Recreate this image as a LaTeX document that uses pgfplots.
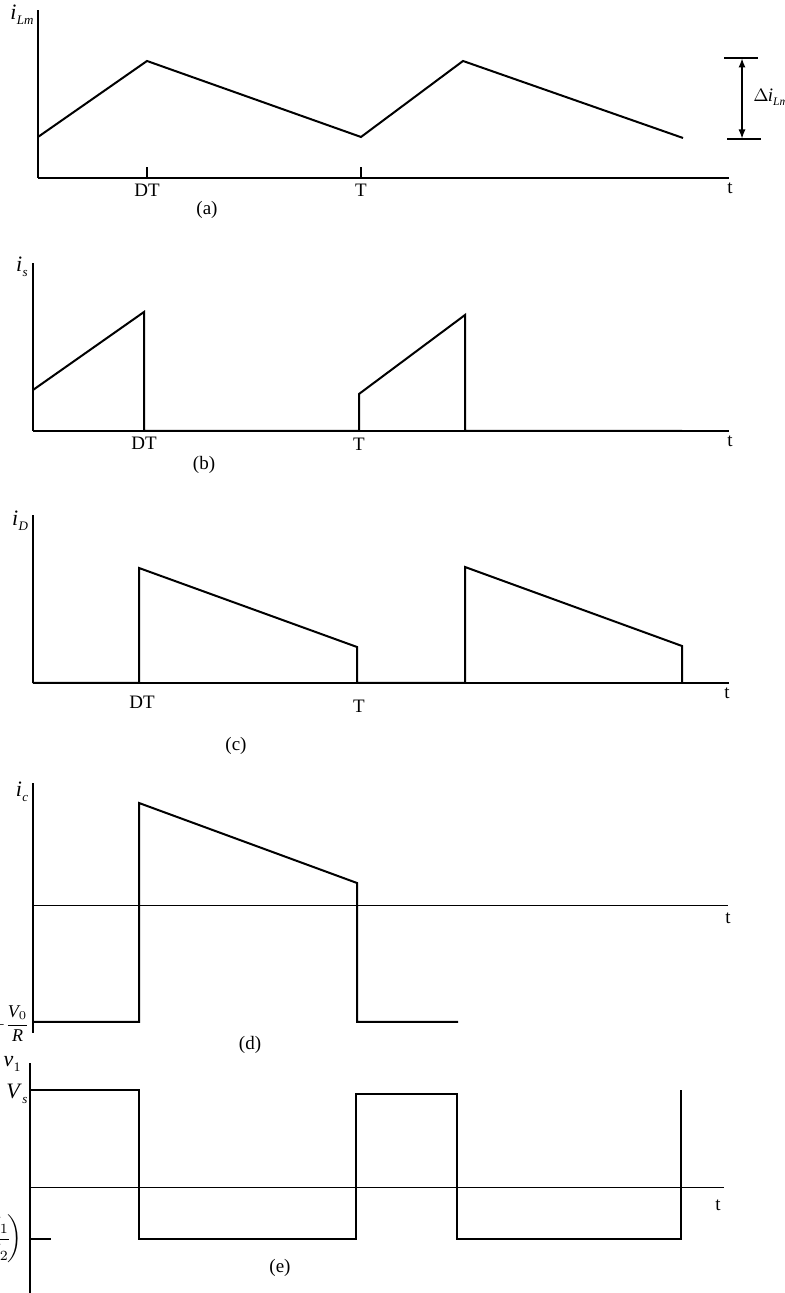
\documentclass[border=0pt]{standalone}
\usepackage{amsmath}
\usepackage{fontspec}
\setmainfont{Liberation Serif}
\usepackage{pgfplots}
\pgfplotsset{compat=1.18}
\usetikzlibrary{arrows.meta}

% text sizes
\newcommand\lbl{\fontsize{9.5}{10}\selectfont}
\newcommand\sym{\fontsize{11}{12}\selectfont}
% italic symbol with a lowered subscript, e.g. \var{i}{Lm}
\newcommand\var[2]{\textit{#1}\kern0.02em\raisebox{-0.5ex}{\fontsize{6.5}{7}\selectfont #2}}
\newcommand\varsm[2]{\textit{#1}\raisebox{-0.5ex}{\fontsize{5.8}{6}\selectfont #2}}

\pgfplotsset{
  panel/.style={
    x=0.5pt, y=0.5pt,
    axis y line*=left,
    axis line style={line width=0.6pt, black},
    xtick=\empty, ytick=\empty,
    enlargelimits=false, clip=false,
    anchor=south west,
  },
  wave/.style={black, line width=1pt, line join=miter, mark=none},
}

\begin{document}
\begin{tikzpicture}

% ---------------- (a) magnetising current
\begin{axis}[panel, at={(19pt,557.5pt)},
  axis x line*=bottom,
  xmin=0, xmax=691, ymin=0, ymax=168,
  xtick={109,323}, xticklabels={DT,T},
  tick align=inside, major tick length=5.5pt,
  tick style={line width=0.6pt, black},
  xticklabel style={font=\lbl, inner sep=0pt, yshift=-3pt}]
\addplot[wave] coordinates {(0,41) (109,117) (323,41) (425,117) (645,40)};
\node[font=\sym] at (axis cs:-16,163) {\var{i}{\textit{Lm}}};
\node[font=\lbl] at (axis cs:692,-10) {t};
\node[font=\lbl] at (axis cs:169,-32) {(a)};
% ripple span
\draw[line width=0.6pt] (axis cs:686,120) -- (axis cs:720,120);
\draw[line width=0.6pt] (axis cs:689,39) -- (axis cs:723,39);
\draw[line width=0.6pt, {Latex[length=4.5pt,width=3.5pt]}-{Latex[length=4.5pt,width=3.5pt]}]
  (axis cs:704,39.5) -- (axis cs:704,119.5);
\node[font=\fontsize{9.5}{10}\selectfont, anchor=west, inner sep=0pt] at (axis cs:715,81)
  {$\Delta$\kern-0.05em\varsm{i}{\textit{Lm}}};
\end{axis}

% ---------------- (b) switch current
\begin{axis}[panel, at={(16.5pt,431pt)},
  axis x line*=bottom,
  xmin=0, xmax=696, ymin=0, ymax=168]
\addplot[wave] coordinates {(0,41) (111,119) (111,0) (326,0) (326,37) (432,116) (432,0) (649,0)};
\node[font=\sym] at (axis cs:-11,164) {\var{i}{\textit{s}}};
\node[font=\lbl] at (axis cs:111,-12) {DT};
\node[font=\lbl] at (axis cs:326,-13) {T};
\node[font=\lbl] at (axis cs:697,-10) {t};
\node[font=\lbl] at (axis cs:171,-34) {(b)};
\end{axis}

% ---------------- (c) diode current
\begin{axis}[panel, at={(16.5pt,305pt)},
  axis x line*=bottom,
  xmin=0, xmax=696, ymin=0, ymax=168]
\addplot[wave] coordinates {(0,0) (106,0) (106,115) (324,36) (324,0) (432,0) (432,116) (649,37) (649,0)};
\node[font=\sym] at (axis cs:-13,162) {\var{i}{\textit{D}}};
\node[font=\lbl] at (axis cs:109,-19) {DT};
\node[font=\lbl] at (axis cs:326,-23) {T};
\node[font=\lbl] at (axis cs:694,-10) {t};
\node[font=\lbl] at (axis cs:203,-63) {(c)};
\end{axis}

% ---------------- (d) capacitor current
\begin{axis}[panel, at={(16.5pt,130pt)},
  axis x line*=middle,
  x axis line style={line width=0.5pt},
  xmin=0, xmax=695, ymin=-127, ymax=123]
\addplot[wave] coordinates {(0,-116) (106,-116) (106,103) (324,23) (324,-116) (425,-116)};
\node[font=\sym] at (axis cs:-11,114) {\var{i}{\textit{c}}};
\node[font=\lbl] at (axis cs:695,-12) {t};
\node[font=\lbl] at (axis cs:217,-139) {(d)};
\node[font=\fontsize{9}{11}\selectfont, anchor=east, inner sep=0pt] at (axis cs:-3,-118)
  {$-\dfrac{\textit{V}_{0}}{\textit{R}}$};
\end{axis}

% ---------------- (e) primary voltage
\begin{axis}[panel, at={(15pt,0pt)},
  axis x line*=middle,
  x axis line style={line width=0.5pt},
  xmin=0, xmax=694, ymin=-105, ymax=125,
  ytick={-51}, yticklabels={},
  tick align=inside, major tick length=10.5pt,
  tick style={line width=0.6pt, black}]
\addplot[wave] coordinates {(0,98) (109,98) (109,-51) (326,-51) (326,94) (427,94) (427,-51) (651,-51) (651,98)};
\node[font=\sym] at (axis cs:-18,124) {\var{v}{1}};
\node[font=\sym] at (axis cs:-13,94) {\var{V}{\textit{s}}};
\node[font=\lbl] at (axis cs:688,-17) {t};
\node[font=\lbl] at (axis cs:250,-80) {(e)};
\node[font=\fontsize{10}{12}\selectfont, anchor=east, inner sep=0pt] at (axis cs:-7,-51)
  {$-\textit{V}_{0}\biggl(\dfrac{\textit{N}_1}{\textit{N}_2}\!\biggr)$};
\end{axis}

\pgfresetboundingbox
\useasboundingbox (0,0) rectangle (392.5pt,646.5pt);
\end{tikzpicture}
\end{document}
